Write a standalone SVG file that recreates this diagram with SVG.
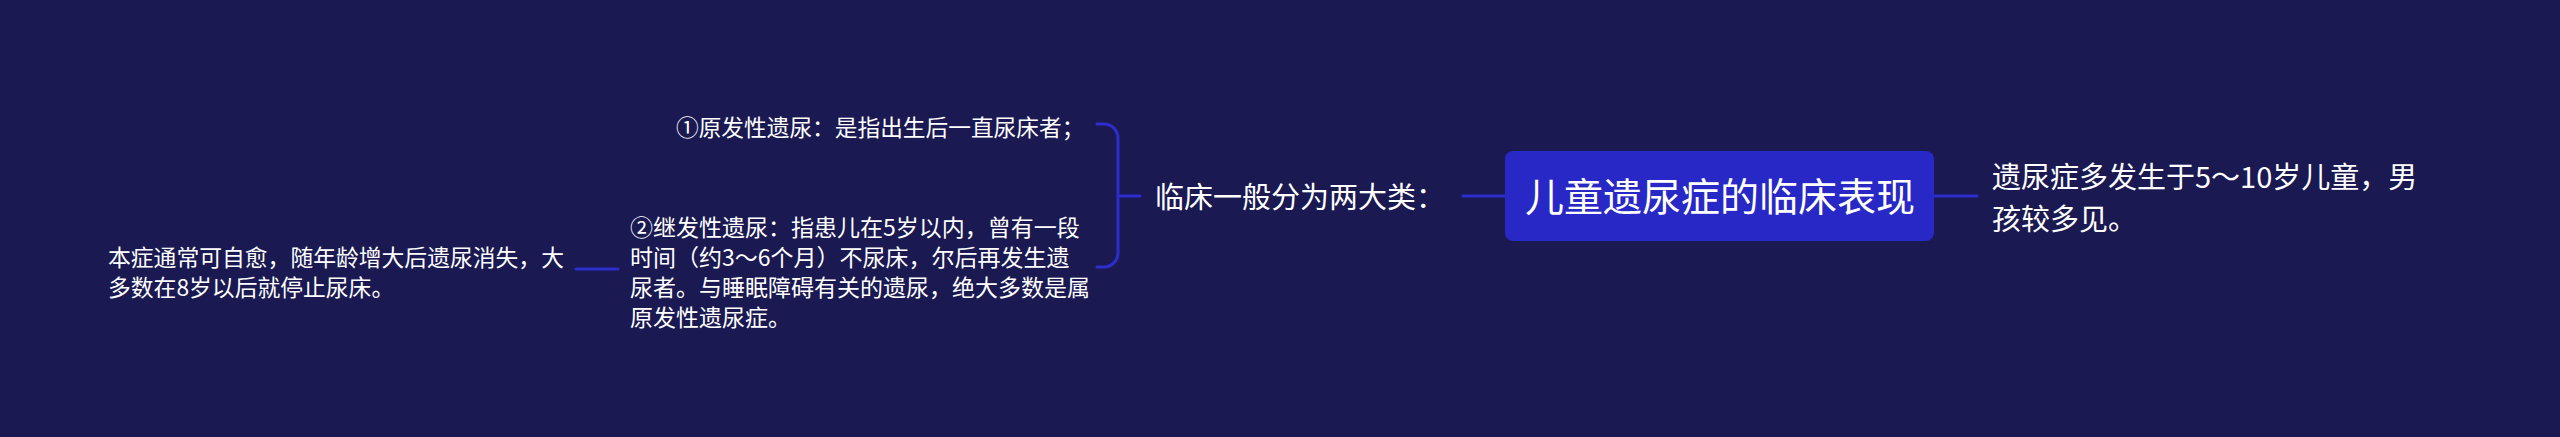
<svg xmlns="http://www.w3.org/2000/svg" width="2560" height="437" viewBox="0 0 2560 437">
<style>
.bg{fill:#1a1952}
.ln{fill:none;stroke:#2d2dcc;stroke-width:3;stroke-linecap:round}
.t{font-family:"Noto Sans CJK SC","Noto Sans",sans-serif;fill:#ffffff}
.root{fill:#2828c6}
</style>
<rect class="bg" x="0" y="0" width="2560" height="437"/>
<g id="connectors">
<path class="ln" d="M1463,196 H1505"/>
<path class="ln" d="M1934,196 H1977"/>
<path class="ln" d="M1097,124 H1104 A14,14 0 0 1 1118,138 V253 A14,14 0 0 1 1104,267 H1097"/>
<path class="ln" d="M1118,196 H1140"/>
<path class="ln" d="M576,269 H618"/>
</g>
<g id="root">
<rect class="root" x="1505" y="151" width="429" height="90" rx="8"/>
<text class="t" x="1525" y="211" font-size="39">儿童遗尿症的临床表现</text>
</g>
<g id="right">
<text class="t" font-size="29"><tspan x="1992" y="188">遗尿症多发生于5～10岁儿童，男</tspan><tspan x="1992" y="230">孩较多见。</tspan></text>
</g>
<g id="classes">
<text class="t" x="1155" y="208" font-size="29">临床一般分为两大类：</text>
</g>
<g id="primary">
<text class="t" x="676" y="136" font-size="22.7">①原发性遗尿：是指出生后一直尿床者；</text>
</g>
<g id="secondary">
<text class="t" font-size="23"><tspan x="630" y="236">②继发性遗尿：指患儿在5岁以内，曾有一段</tspan><tspan x="630" y="266">时间（约3～6个月）不尿床，尔后再发生遗</tspan><tspan x="630" y="296">尿者。与睡眠障碍有关的遗尿，绝大多数是属</tspan><tspan x="630" y="326">原发性遗尿症。</tspan></text>
</g>
<g id="outcome">
<text class="t" font-size="22.8"><tspan x="108" y="266">本症通常可自愈，随年龄增大后遗尿消失，大</tspan><tspan x="108" y="296">多数在8岁以后就停止尿床。</tspan></text>
</g>
</svg>
